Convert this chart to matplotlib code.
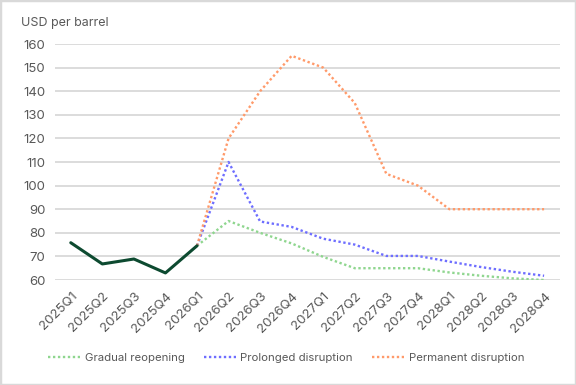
import numpy as np
import matplotlib.pyplot as plt
from matplotlib.patches import Rectangle

plt.rcParams['font.family'] = ['Inter', 'DejaVu Sans']

quarters = ['2025Q1', '2025Q2', '2025Q3', '2025Q4',
            '2026Q1', '2026Q2', '2026Q3', '2026Q4',
            '2027Q1', '2027Q2', '2027Q3', '2027Q4',
            '2028Q1', '2028Q2', '2028Q3', '2028Q4']
historical = [75.8, 66.8, 68.9, 63.0, 74.5]
gradual = [74.5, 85, 80, 75.5, 69.8, 65, 65, 65, 63.2, 61.8, 60.7, 60]
prolonged = [74.5, 110, 84.8, 82.5, 77.5, 75, 70.2, 70.2, 67.8, 65.5, 63.5, 61.8]
permanent = [74.5, 120, 140, 155, 150, 135, 105, 100, 90, 90, 90, 90]

x = np.arange(len(quarters))
grey = '#595959'

fig = plt.figure(figsize=(5.76, 3.85), dpi=100)
ax = fig.add_axes([0.0955, 0.2727, 0.8765, 0.613])

dots = (0, (1, 1.1))
ax.plot(x[4:], gradual, color='#8fd68f', lw=1.7, linestyle=dots,
        dash_capstyle='butt', label='Gradual reopening')
ax.plot(x[4:], prolonged, color='#6e6eff', lw=1.7, linestyle=dots,
        dash_capstyle='butt', label='Prolonged disruption')
ax.plot(x[4:], permanent, color='#ff9a6a', lw=1.7, linestyle=dots,
        dash_capstyle='butt', label='Permanent disruption')
ax.plot(x[:5], historical, color='#0d4a30', lw=2.2, solid_capstyle='round')

ax.set_xlim(-0.5, len(quarters) - 0.5)
ax.set_ylim(60, 160)
ax.set_yticks(np.arange(60, 161, 10))
ax.set_xticks(x)
ax.set_xticklabels(quarters, rotation=45, ha='right', rotation_mode='anchor')
ax.tick_params(length=0, colors=grey, labelsize=9.5)
ax.tick_params(axis='y', pad=7)
ax.tick_params(axis='x', pad=7)
ax.grid(axis='y', color='#d9d9d9', lw=1.3)
ax.set_axisbelow(True)
for s in ax.spines.values():
    s.set_visible(False)

fig.text(0.037, 0.94, 'USD per barrel', color=grey, fontsize=9, va='center')

handles, labels = ax.get_legend_handles_labels()
fig.legend(handles, labels, loc='center', bbox_to_anchor=(0.497, 0.07), ncol=3,
           frameon=False, fontsize=8.2, labelcolor=grey, handlelength=2.8,
           handletextpad=0.4, columnspacing=1.7)

fig.patches.append(Rectangle((0, 0), 1, 1, transform=fig.transFigure,
                             fill=False, edgecolor='#d9d9d9', lw=2.5))

fig.savefig('out.png', dpi=100)
